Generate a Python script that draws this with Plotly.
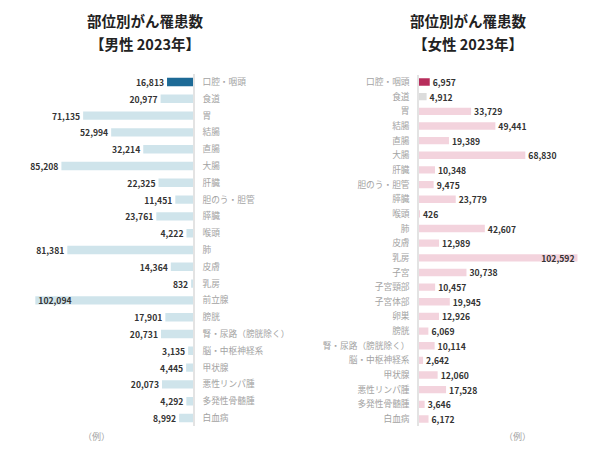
import plotly.graph_objects as go

FONT = "Noto Sans CJK JP"

male_sites = ["口腔・咽頭", "食道", "胃", "結腸", "直腸", "大腸", "肝臓", "胆のう・胆管", "膵臓", "喉頭",
              "肺", "皮膚", "乳房", "前立腺", "膀胱", "腎・尿路（膀胱除く）", "脳・中枢神経系", "甲状腺",
              "悪性リンパ腫", "多発性骨髄腫", "白血病"]
male_counts = [16813, 20977, 71135, 52994, 32214, 85208, 22325, 11451, 23761, 4222,
               81381, 14364, 832, 102094, 17901, 20731, 3135, 4445, 20073, 4292, 8992]

female_sites = ["口腔・咽頭", "食道", "胃", "結腸", "直腸", "大腸", "肝臓", "胆のう・胆管", "膵臓", "喉頭",
                "肺", "皮膚", "乳房", "子宮", "子宮頸部", "子宮体部", "卵巣", "膀胱", "腎・尿路（膀胱除く）",
                "脳・中枢神経系", "甲状腺", "悪性リンパ腫", "多発性骨髄腫", "白血病"]
female_counts = [6957, 4912, 33729, 49441, 19389, 68830, 10348, 9475, 23779, 426,
                 42607, 12989, 102592, 30738, 10457, 19945, 12926, 6069, 10114,
                 2642, 12060, 17528, 3646, 6172]

title_main = "部位別がん罹患数"
title_subs = ["【男性 2023年】", "【女性 2023年】"]
unit_note = "（例）"

W, H = 600, 450


def px(x):
    return x / W


def py(y):
    return 1 - y / H


male_colors = ["#1d6a96"] + ["#cfe4eb"] * (len(male_sites) - 1)
female_colors = ["#b72d5b", "#dcdcdc"] + ["#f3d3dd"] * (len(female_sites) - 2)

mmax = max(male_counts)
fmax = max(female_counts)
male_pos = ["inside" if v == mmax else "outside" for v in male_counts]
female_pos = ["inside" if v == fmax else "outside" for v in female_counts]

VAL_FONT = dict(family=FONT, size=8.6, color="#333333")
CAT_FONT = dict(family=FONT, size=8.7, color="#a3a3a3")

fig = go.Figure()
fig.add_trace(go.Bar(
    x=male_counts, y=male_sites, orientation="h", xaxis="x", yaxis="y",
    marker=dict(color=male_colors, line=dict(width=0)), width=0.5,
    text=[f"<b>{v:,}</b>" for v in male_counts], textposition=male_pos,
    insidetextanchor="end", constraintext="none", textangle=0,
    textfont=VAL_FONT, insidetextfont=VAL_FONT, outsidetextfont=VAL_FONT,
    cliponaxis=False, hoverinfo="skip", showlegend=False,
))
fig.add_trace(go.Bar(
    x=female_counts, y=female_sites, orientation="h", xaxis="x2", yaxis="y2",
    marker=dict(color=female_colors, line=dict(width=0)), width=0.5,
    text=[f"<b>{v:,}</b>" for v in female_counts], textposition=female_pos,
    insidetextanchor="end", constraintext="none", textangle=0,
    textfont=VAL_FONT, insidetextfont=VAL_FONT, outsidetextfont=VAL_FONT,
    cliponaxis=False, hoverinfo="skip", showlegend=False,
))

scale = 158 / 102300  # px per unit
span = 110000

fig.update_layout(
    width=W, height=H, margin=dict(l=0, r=0, t=0, b=0),
    paper_bgcolor="white", plot_bgcolor="white",
    font=dict(family=FONT),
    xaxis=dict(domain=[px(193 - span * scale), px(193)], range=[span, 0],
               visible=False, fixedrange=True),
    yaxis=dict(domain=[py(426.4), py(73.6)], anchor="x", side="right",
               type="category", categoryorder="array", categoryarray=male_sites,
               range=[len(male_sites) - 0.5, -0.5],
               showline=True, linecolor="#e3e3e3", linewidth=1.5,
               showgrid=False, zeroline=False, ticks="", ticklabelstandoff=6,
               tickfont=CAT_FONT, fixedrange=True),
    xaxis2=dict(domain=[px(419), px(419 + span * scale)], range=[0, span],
                visible=False, fixedrange=True, anchor="y2"),
    yaxis2=dict(domain=[py(426.3), py(74.7)], anchor="x2", side="left",
                type="category", categoryorder="array", categoryarray=female_sites,
                range=[len(female_sites) - 0.5, -0.5],
                showline=True, linecolor="#e3e3e3", linewidth=1.5,
                showgrid=False, zeroline=False, ticks="", ticklabelstandoff=6,
                tickfont=CAT_FONT, fixedrange=True),
)

for sub, cx in zip(title_subs, [145, 468]):
    fig.add_annotation(text=f"<b>{title_main}</b>", x=px(cx), y=py(21), xref="paper", yref="paper",
                       showarrow=False, xanchor="center", yanchor="middle",
                       font=dict(family=FONT, size=14.5, color="#222222"))
    fig.add_annotation(text=f"<b>{sub}</b>", x=px(cx), y=py(44), xref="paper", yref="paper",
                       showarrow=False, xanchor="center", yanchor="middle",
                       font=dict(family=FONT, size=14.5, color="#222222"))

for cx in [97, 517]:
    fig.add_annotation(text=unit_note, x=px(cx), y=py(436), xref="paper", yref="paper",
                       showarrow=False, xanchor="center", yanchor="middle",
                       font=dict(family=FONT, size=9, color="#a3a3a3"))

fig.write_html("out.html", config={"displayModeBar": False},
               post_script="document.body.style.margin='0';")
